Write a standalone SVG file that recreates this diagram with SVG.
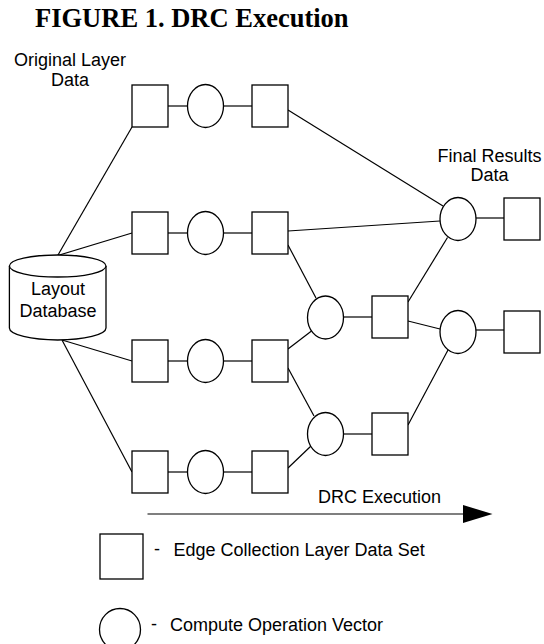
<svg xmlns="http://www.w3.org/2000/svg" width="544" height="644" viewBox="0 0 544 644">
<style>
.n{fill:#fff;stroke:#000;stroke-width:1.3}
.c line{stroke:#000;stroke-width:1.2}
.t{font-family:"Liberation Sans",Arial,sans-serif;font-size:18px;fill:#000}
.m{text-anchor:middle}
.h{font-family:"Liberation Serif","Times New Roman",serif;font-weight:bold;font-size:26.5px;fill:#000}
</style>
<rect width="544" height="644" fill="#fff"/>
<text class="h" x="35" y="27">FIGURE 1. DRC Execution</text>
<text class="t m" x="70" y="66">Original Layer</text>
<text class="t m" x="70" y="86">Data</text>
<text class="t m" x="489.5" y="162">Final Results</text>
<text class="t m" x="489.5" y="181">Data</text>
<text class="t" x="318" y="503">DRC Execution</text>

<g class="c">
<line x1="57.7" y1="255.5" x2="132" y2="127"/>
<line x1="57.7" y1="255.5" x2="132" y2="233"/>
<line x1="62" y1="340" x2="132" y2="361"/>
<line x1="62" y1="340" x2="132" y2="472"/>
<line x1="168" y1="106" x2="187.5" y2="106"/>
<line x1="223.5" y1="106" x2="252" y2="106"/>
<line x1="168" y1="233" x2="187.5" y2="233"/>
<line x1="223.5" y1="233" x2="252" y2="233"/>
<line x1="168" y1="361" x2="187.5" y2="361"/>
<line x1="223.5" y1="361" x2="252" y2="361"/>
<line x1="168" y1="472" x2="187.5" y2="472"/>
<line x1="223.5" y1="472" x2="252" y2="472"/>
<line x1="288" y1="110" x2="443" y2="206"/>
<line x1="288" y1="231" x2="440" y2="221"/>
<line x1="288" y1="245" x2="316" y2="298"/>
<line x1="288" y1="349" x2="311.5" y2="331"/>
<line x1="288" y1="368" x2="314" y2="416"/>
<line x1="288" y1="468" x2="311" y2="446"/>
<line x1="343.5" y1="317" x2="372" y2="317"/>
<line x1="408" y1="302" x2="447.5" y2="237.5"/>
<line x1="408" y1="321" x2="440" y2="329"/>
<line x1="343.5" y1="434" x2="372" y2="434"/>
<line x1="408" y1="425" x2="448" y2="350"/>
<line x1="476" y1="218" x2="504" y2="218"/>
<line x1="476" y1="330" x2="504" y2="330"/>
<line x1="147.5" y1="514" x2="464" y2="514"/>
<polygon points="463,505 492.5,514 463,523" fill="#000"/>
</g>

<g id="db">
<path class="n" d="M9.4,266 L9.4,328 A48.3,12 0 0,0 106,328 L106,266"/>
<ellipse class="n" cx="57.7" cy="266" rx="48.3" ry="11"/>
<text class="t m" x="58" y="295">Layout</text>
<text class="t m" x="58" y="317">Database</text>
</g>

<g id="r1s1"><rect class="n" x="132" y="85" width="36" height="42"/></g>
<g id="r1o"><ellipse class="n" cx="205.5" cy="106" rx="18" ry="21.5"/></g>
<g id="r1s2"><rect class="n" x="252" y="85" width="36" height="42"/></g>

<g id="r2s1"><rect class="n" x="132" y="212" width="36" height="42"/></g>
<g id="r2o"><ellipse class="n" cx="205.5" cy="233" rx="18" ry="21.5"/></g>
<g id="r2s2"><rect class="n" x="252" y="212" width="36" height="42"/></g>

<g id="r3s1"><rect class="n" x="132" y="340" width="36" height="42"/></g>
<g id="r3o"><ellipse class="n" cx="205.5" cy="361" rx="18" ry="21.5"/></g>
<g id="r3s2"><rect class="n" x="252" y="340" width="36" height="42"/></g>

<g id="r4s1"><rect class="n" x="132" y="451" width="36" height="42"/></g>
<g id="r4o"><ellipse class="n" cx="205.5" cy="472" rx="18" ry="21.5"/></g>
<g id="r4s2"><rect class="n" x="252" y="451" width="36" height="42"/></g>

<g id="m1o"><ellipse class="n" cx="325.5" cy="317.5" rx="18" ry="21.5"/></g>
<g id="m1s"><rect class="n" x="372" y="296" width="36" height="42"/></g>
<g id="m2o"><ellipse class="n" cx="325.5" cy="434" rx="18" ry="21.5"/></g>
<g id="m2s"><rect class="n" x="372" y="413" width="36" height="42"/></g>

<g id="f1o"><ellipse class="n" cx="458" cy="219" rx="18" ry="21.5"/></g>
<g id="f1s"><rect class="n" x="504" y="198" width="36" height="42"/></g>
<g id="f2o"><ellipse class="n" cx="458" cy="332" rx="18" ry="21.5"/></g>
<g id="f2s"><rect class="n" x="504" y="311" width="36" height="42"/></g>

<g id="legend">
<rect class="n" x="100" y="534" width="43" height="45"/>
<text class="t" x="154" y="555">-</text>
<text class="t" x="173.5" y="556">Edge Collection Layer Data Set</text>
<ellipse class="n" cx="120" cy="629.5" rx="20.5" ry="21"/>
<text class="t" x="151" y="630">-</text>
<text class="t" x="170" y="631">Compute Operation Vector</text>
</g>
</svg>
